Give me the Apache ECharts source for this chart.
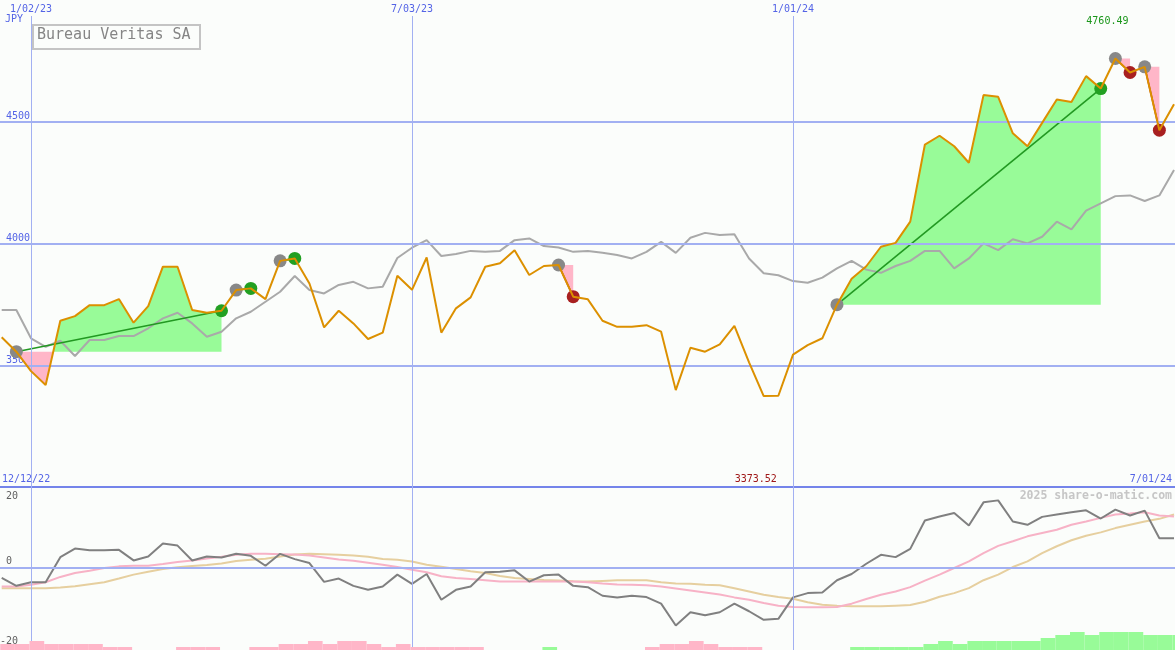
<!DOCTYPE html>
<html><head><meta charset="utf-8">
<script src="https://cdn.jsdelivr.net/npm/echarts@6/dist/echarts.min.js"></script>
<style>html,body{margin:0;padding:0;background:#fbfdfb}#c{width:1175px;height:650px}</style>
</head><body><div id="c"></div>
<script>
// ---- data ----
// week offsets from 1/02/23 (weekly closes)
const weeks = [-2,-1,0,1,2,3,4,5,6,7,8,9,10,11,12,13,14,15,16,17,18,19,20,21,22,23,24,25,26,27,28,29,30,31,32,33,34,35,36,37,38,39,40,41,42,43,44,45,46,47,48,49,50,51,52,53,54,55,56,57,58,59,60,61,62,63,64,65,66,67,68,69,70,71,72,73,74,75,76,77,78];
const price = [3615,3556,3476,3419,3683,3702,3747,3747,3772,3675,3743,3905,3905,3727,3716,3724,3809,3816,3772,3929,3939,3836,3656,3724,3672,3608,3634,3868,3810,3943,3634,3734,3779,3905,3919,3973,3871,3908,3912,3782,3771,3683,3658,3658,3665,3638,3398,3572,3556,3586,3662,3512,3373.52,3375,3544,3583,3611,3749,3856,3907,3987,4003,4090,4407,4443,4400,4332,4610,4603,4453,4400,4496,4592,4582,4688,4637,4760.49,4703,4726,4466,4572];
const bench = [3727,3727,3611,3576,3601,3538,3604,3604,3620,3620,3652,3693,3716,3672,3617,3638,3693,3720,3761,3802,3867,3809,3795,3830,3843,3816,3823,3941,3983,4014,3949,3957,3970,3966,3970,4014,4021,3990,3984,3966,3970,3962,3953,3939,3966,4007,3962,4024,4044,4035,4038,3939,3878,3870,3846,3839,3860,3898,3929,3893,3880,3908,3929,3970,3970,3898,3939,4001,3973,4018,4001,4028,4090,4058,4135,4165,4195,4198,4175,4198,4302];
const osc = [-3.1,-5.5,-4.4,-4.4,3.2,5.8,5.3,5.3,5.4,2.2,3.4,7.3,6.7,2.2,3.4,3.1,4.2,3.6,0.6,4.2,2.6,1.4,-4.3,-3.3,-5.5,-6.7,-5.7,-2.1,-4.9,-1.9,-9.7,-6.7,-5.7,-1.4,-1.2,-0.8,-4.2,-2.3,-2.1,-5.5,-5.9,-8.5,-9.0,-8.5,-8.9,-10.9,-17.5,-13.5,-14.4,-13.5,-10.9,-13.2,-15.8,-15.5,-9.0,-7.7,-7.5,-3.8,-1.9,1.2,3.9,3.2,5.7,14.3,15.5,16.6,12.8,19.8,20.4,14.0,13.0,15.4,16.1,16.8,17.4,14.9,17.6,15.8,17.3,8.9,8.9];
const oscFast = [-5.7,-5.7,-5.2,-4.4,-2.8,-1.6,-0.9,-0.1,0.4,0.6,0.6,1.1,1.7,2.2,2.8,3.3,3.9,4.2,4.2,4.1,4.0,3.7,3.1,2.5,2.1,1.5,0.9,0.2,-0.6,-1.4,-2.6,-3.1,-3.4,-3.8,-4.2,-4.2,-4.2,-4.2,-4.2,-4.2,-4.4,-4.8,-5.1,-5.2,-5.3,-5.7,-6.3,-6.9,-7.5,-8.1,-9.0,-9.7,-10.7,-11.5,-11.9,-12.0,-12.0,-11.9,-10.9,-9.5,-8.2,-7.2,-5.9,-3.9,-2.1,-0.1,1.9,4.4,6.6,8.0,9.5,10.5,11.5,13.0,14.0,15.1,16.1,16.4,16.8,15.8,15.5];
const oscSlow = [-6.2,-6.2,-6.2,-6.2,-6.0,-5.6,-5.0,-4.4,-3.3,-2.1,-1.2,-0.4,0.1,0.5,0.8,1.3,2.0,2.4,2.7,3.4,4.0,4.2,4.1,3.9,3.7,3.3,2.6,2.4,1.9,0.9,0.3,-0.4,-1.1,-1.6,-2.5,-3.1,-3.4,-3.7,-3.9,-4.1,-4.2,-4.0,-3.8,-3.8,-3.8,-4.4,-4.8,-4.9,-5.2,-5.3,-6.2,-7.2,-8.2,-8.9,-9.4,-10.5,-11.2,-11.5,-11.7,-11.7,-11.7,-11.5,-11.3,-10.3,-8.8,-7.7,-6.2,-3.8,-2.1,0.2,1.9,4.4,6.5,8.3,9.7,10.7,12.0,13.0,14.0,14.8,16.1];
const hist = [-2,-2,-3,-2,-2,-2,-2,-1,-1,0,0,0,-1,-1,-1,0,0,-1,-1,-2,-2,-3,-2,-3,-3,-2,-1,-2,-1,-1,-1,-1,-1,0,0,0,0,1,0,0,0,0,0,0,-1,-2,-2,-3,-2,-1,-1,-1,0,0,0,0,0,0,1,1,1,1,1,2,3,2,3,3,3,3,3,4,5,6,5,6,6,6,5,5,5];
// trades: entry / exit week offsets
const tradeEntries = [-1,14,17,36,55,74,76];
const tradeExits   = [13,15,18,37,73,75,77];
// axis labels
const gridWeeks = [0,26,52];
const gridDates = ['1/02/23','7/03/23','1/01/24'];
const priceTicks = [3500,4000,4500];
const oscTicks = ['20','0','-20'];
const startLabel = '12/12/22', endLabel = '7/01/24';
const title = 'Bureau Veritas SA', currency = 'JPY', credit = '2025 share-o-matic.com';

// ---- styles ----
const MONO = '"DejaVu Sans Mono", monospace';
const BLUE = '#a2b0f2', LBL = '#5464e6';
const GREEN_FILL = '#98fb98', PINK_FILL = '#ffb6c8';
const K0 = weeks[0];
const idx = k => k - K0;
const pair = arr => weeks.map((w, i) => [w, arr[i]]);

const trades = tradeEntries.map((e, i) => [e, price[idx(e)], tradeExits[i], price[idx(tradeExits[i])]]);

function renderFill(params, api) {
  const e = api.value(0), x = api.value(2);
  const i0 = idx(e), i1 = idx(x);
  const base = price[i0];
  const pts = [];
  for (let i = i0; i <= i1; i++) {
    if (i > i0) {
      const a = price[i - 1] - base, b = price[i] - base;
      if (a * b < 0) { const t = a / (a - b); pts.push([weeks[i - 1] + t * (weeks[i] - weeks[i - 1]), base]); }
    }
    pts.push([weeks[i], price[i]]);
  }
  const polys = [];
  let cur = null, curSign = 0;
  for (let j = 1; j < pts.length; j++) {
    const s = Math.sign((pts[j - 1][1] + pts[j][1]) / 2 - base);
    if (s !== curSign) {
      if (cur) polys.push({ s: curSign, p: cur });
      cur = s ? [pts[j - 1]] : null; curSign = s;
    }
    if (cur) cur.push(pts[j]);
  }
  if (cur) polys.push({ s: curSign, p: cur });
  const children = polys.map(pl => {
    const full = [[pl.p[0][0], base]].concat(pl.p, [[pl.p[pl.p.length - 1][0], base]]);
    return { type: 'polygon', shape: { points: full.map(q => api.coord(q)) },
      style: { fill: pl.s > 0 ? GREEN_FILL : PINK_FILL } };
  });
  return { type: 'group', children };
}
function renderTradeLine(params, api) {
  const a = api.coord([api.value(0), api.value(1)]);
  const b = api.coord([api.value(2), api.value(3)]);
  return { type: 'line', shape: { x1: a[0], y1: a[1], x2: b[0], y2: b[1] },
    style: { stroke: api.value(3) >= api.value(1) ? '#229922' : '#aa2222', lineWidth: 1.6 } };
}
function renderHist(params, api) {
  const k = api.value(0), v = api.value(1);
  if (!v) return null;
  const p0 = api.coord([k - 0.1, 0]);
  const p1 = api.coord([k + 0.9, Math.abs(v)]);
  return { type: 'rect', shape: { x: p0[0], y: p1[1], width: p1[0] - p0[0], height: p0[1] - p1[1] },
    style: { fill: v < 0 ? PINK_FILL : GREEN_FILL } };
}

const xMin = -2.1155, xMax = 78.067;
const chart = echarts.init(document.getElementById('c'), null, { renderer: 'canvas' });
const vLines = gridWeeks.map((w, i) => ({ xAxis: w, label: { formatter: gridDates[i] } }));

chart.setOption({
  backgroundColor: '#fbfdfb',
  animation: false,
  grid: [
    { left: 0, right: 0, top: 16, height: 471 },
    { left: 0, right: 0, top: 487, height: 163 }
  ],
  xAxis: [
    { type: 'value', gridIndex: 0, min: xMin, max: xMax, axisLabel: { show: false }, axisTick: { show: false },
      splitLine: { show: false }, axisLine: { show: true, onZero: false, lineStyle: { color: '#7484ea', width: 2 } } },
    { type: 'value', gridIndex: 1, min: xMin, max: xMax, show: false, splitLine: { show: false } }
  ],
  yAxis: [
    { type: 'value', gridIndex: 0, min: 3000, max: 4935, interval: 500, axisLine: { show: false }, axisTick: { show: false },
      splitLine: { show: false }, showMinLabel: true, showMaxLabel: true,
      axisLabel: { inside: true, margin: 6, color: LBL, fontFamily: MONO, fontSize: 10, verticalAlign: 'bottom',
        formatter: v => priceTicks.includes(v) ? String(v) : '' } },
    { type: 'value', gridIndex: 1, min: -24.94, max: 24.45, show: false, splitLine: { show: false } },
    { type: 'value', gridIndex: 1, min: 0, max: 54.33, show: false, splitLine: { show: false } }
  ],
  series: [
    { type: 'custom', name: 'fills', xAxisIndex: 0, yAxisIndex: 0, z: 1, renderItem: renderFill,
      encode: { x: 0, y: 1 }, data: trades, silent: true },
    { type: 'line', name: 'bench', xAxisIndex: 0, yAxisIndex: 0, z: 2, data: pair(bench), showSymbol: false,
      lineStyle: { color: '#a9a9a9', width: 2 }, silent: true,
      markLine: { silent: true, symbol: ['none', 'none'], animation: false,
        data: vLines.map(d => Object.assign({}, d, { lineStyle: { color: BLUE, width: 1, type: 'solid' },
          label: { show: true, position: 'end', distance: 2, color: LBL, fontFamily: MONO, fontSize: 10, formatter: d.label.formatter } }))
          .concat(priceTicks.map(v => ({ yAxis: v, lineStyle: { color: BLUE, width: 2, type: 'solid' }, label: { show: false } }))) } },
    { type: 'custom', name: 'tradeLines', xAxisIndex: 0, yAxisIndex: 0, z: 3, renderItem: renderTradeLine,
      encode: { x: 0, y: 1 }, data: trades, silent: true },
    { type: 'scatter', name: 'entries', xAxisIndex: 0, yAxisIndex: 0, z: 4, symbolSize: 13,
      itemStyle: { color: '#888888', opacity: 1 }, data: trades.map(t => [t[0], t[1]]), silent: true },
    { type: 'scatter', name: 'exits', xAxisIndex: 0, yAxisIndex: 0, z: 4, symbolSize: 13,
      itemStyle: { opacity: 1, color: p => p.value[2] ? '#22a022' : '#a82020' },
      data: trades.map(t => [t[2], t[3], t[3] >= t[1] ? 1 : 0]), silent: true },
    { type: 'line', name: 'price', xAxisIndex: 0, yAxisIndex: 0, z: 5, data: pair(price), showSymbol: false,
      lineStyle: { color: '#dc9000', width: 2 }, silent: true },
    { type: 'line', name: 'slow', xAxisIndex: 1, yAxisIndex: 1, z: 2, data: pair(oscSlow), showSymbol: false,
      lineStyle: { color: '#e6cf9f', width: 2 }, silent: true,
      markLine: { silent: true, symbol: ['none', 'none'], animation: false, label: { show: false },
        data: gridWeeks.map(w => ({ xAxis: w, lineStyle: { color: BLUE, width: 1, type: 'solid' } }))
          .concat([{ yAxis: 0, lineStyle: { color: BLUE, width: 2, type: 'solid' } }]) } },
    { type: 'line', name: 'fast', xAxisIndex: 1, yAxisIndex: 1, z: 3, data: pair(oscFast), showSymbol: false,
      lineStyle: { color: '#f7b2c6', width: 2 }, silent: true },
    { type: 'line', name: 'osc', xAxisIndex: 1, yAxisIndex: 1, z: 4, data: pair(osc), showSymbol: false,
      lineStyle: { color: '#808080', width: 2 }, silent: true },
    { type: 'custom', name: 'hist', xAxisIndex: 1, yAxisIndex: 2, z: 5, renderItem: renderHist,
      encode: { x: 0, y: 1 }, data: pair(hist), silent: true }
  ]
});

// text labels
const iMax = price.indexOf(Math.max(...price));
const iMin = price.indexOf(Math.min(...price));
const pMax = chart.convertToPixel({ gridIndex: 0 }, [weeks[iMax], price[iMax]]);
const pMin = chart.convertToPixel({ gridIndex: 0 }, [weeks[iMin], price[iMin]]);
const txt = (o) => Object.assign({ type: 'text', silent: true, z: 100 }, o);
chart.setOption({
  graphic: [
    txt({ left: 5, top: 14, style: { text: currency, fill: LBL, font: '10px ' + MONO } }),
    { type: 'rect', left: 32, top: 24, silent: true, z: 100, shape: { width: 167, height: 24 },
      style: { fill: '#fbfdfb', stroke: '#c4c4c4', lineWidth: 2 } },
    txt({ left: 37, top: 28, style: { text: title, fill: '#858585', font: '15px ' + MONO } }),
    txt({ x: pMax[0] - 8, y: 21, style: { text: price[iMax].toFixed(2), fill: '#1a961a', font: '10px ' + MONO, align: 'center', verticalAlign: 'middle' } }),
    txt({ x: pMin[0] - 8, y: 479, style: { text: price[iMin].toFixed(2), fill: '#a01818', font: '10px ' + MONO, align: 'center', verticalAlign: 'middle' } }),
    txt({ left: 2, top: 474, style: { text: startLabel, fill: LBL, font: '10px ' + MONO } }),
    txt({ right: 3, top: 474, style: { text: endLabel, fill: LBL, font: '10px ' + MONO } }),
    txt({ right: 3, top: 490, style: { text: credit, fill: '#c6c6c6', font: 'bold 11.5px ' + MONO } }),
    txt({ left: 6, top: 491, style: { text: oscTicks[0], fill: '#606060', font: '10px ' + MONO } }),
    txt({ left: 6, top: 556, style: { text: oscTicks[1], fill: '#606060', font: '10px ' + MONO } }),
    txt({ left: 0, top: 636, style: { text: oscTicks[2], fill: '#606060', font: '10px ' + MONO } })
  ]
});
</script></body></html>
